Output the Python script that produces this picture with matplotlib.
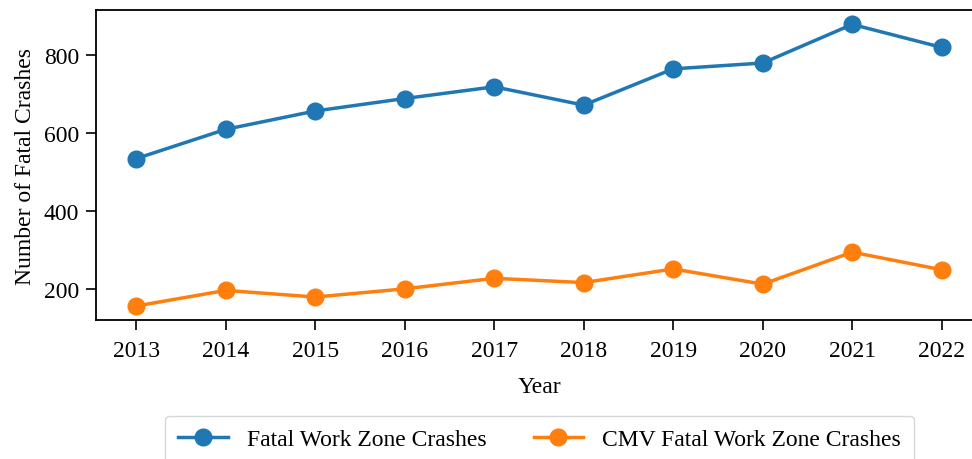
import matplotlib
matplotlib.use("Agg")
import matplotlib.pyplot as plt

plt.rcParams['font.family'] = ['Liberation Serif', 'DejaVu Serif']

years = [2013, 2014, 2015, 2016, 2017, 2018, 2019, 2020, 2021, 2022]
fatal_wz = [534, 609, 656, 688, 718, 671, 764, 779, 878, 819]
cmv_fatal_wz = [156, 196, 179, 200, 227, 216, 251, 212, 294, 249]

fs = 17
fig = plt.figure(figsize=(9.72, 4.6), dpi=100)
ax = fig.add_axes([0.0988, 0.302, 0.9115, 0.6734])

ax.plot(years, fatal_wz, marker='o', color='#1f77b4', linewidth=2.5,
        markersize=12, label='Fatal Work Zone Crashes')
ax.plot(years, cmv_fatal_wz, marker='o', color='#ff7f0e', linewidth=2.5,
        markersize=12, label='CMV Fatal Work Zone Crashes')

ax.set_xticks(years)
ax.set_xticklabels([str(y) for y in years])
ax.set_yticks([200, 400, 600, 800])
ax.tick_params(labelsize=fs, length=7, width=1.2)
ax.tick_params(axis='x', pad=7)
ax.tick_params(axis='y', pad=5)
for s in ax.spines.values():
    s.set_linewidth(1.3)
ax.set_xlabel('Year', fontsize=fs, labelpad=11)
ax.set_ylabel('Number of Fatal Crashes', fontsize=fs, labelpad=6)

fig.legend(loc='upper center', bbox_to_anchor=(0.555, 0.094), ncol=2,
           fontsize=fs, frameon=True, columnspacing=2.0, borderaxespad=0,
           handlelength=2.1, borderpad=0.55)

fig.savefig('out.png', dpi=100)
